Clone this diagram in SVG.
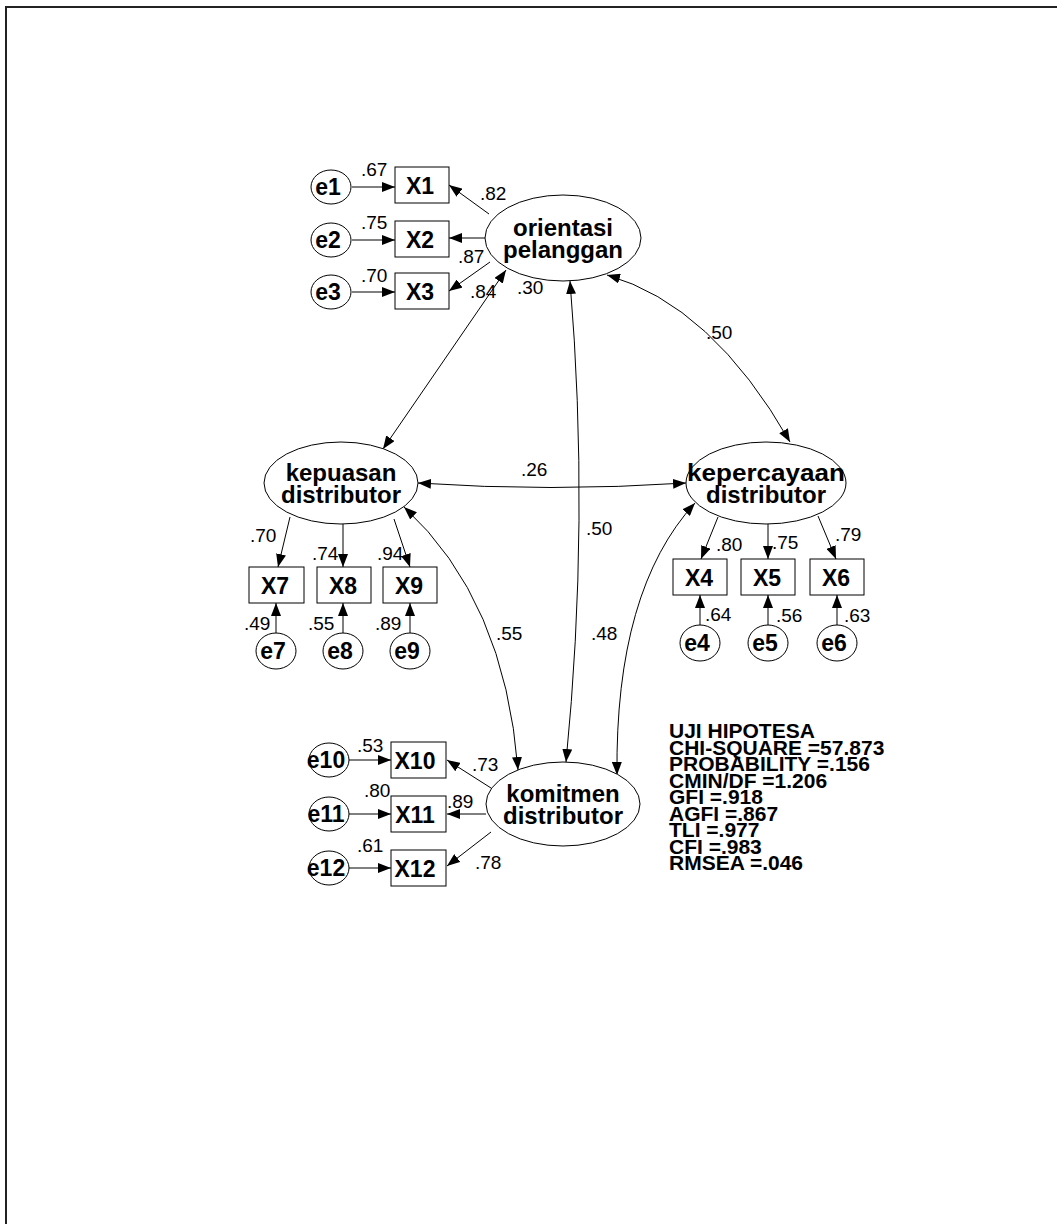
<svg xmlns="http://www.w3.org/2000/svg" width="1057" height="1224" viewBox="0 0 1057 1224">
<defs>
<marker id="ah" viewBox="0 0 13 10" refX="13" refY="5" markerWidth="13" markerHeight="10" markerUnits="userSpaceOnUse" orient="auto-start-reverse">
<path d="M0,0 L13,5 L0,10 z" fill="#000"/>
</marker>
<style>
.lat{fill:#fff;stroke:#000;stroke-width:1}
.box{fill:#fff;stroke:#000;stroke-width:1}
.err{fill:#fff;stroke:#000;stroke-width:1}
.lt{font-family:"Liberation Sans",Arial,sans-serif;font-weight:bold;font-size:24px;text-anchor:middle;fill:#000}
.bt{font-family:"Liberation Sans",Arial,sans-serif;font-weight:bold;font-size:23px;text-anchor:middle;fill:#000}
.et{font-family:"Liberation Sans",Arial,sans-serif;font-weight:bold;font-size:23px;text-anchor:middle;fill:#000}
.num{font-family:"Liberation Sans",Arial,sans-serif;font-size:19px;fill:#000}
.st{font-family:"Liberation Sans",Arial,sans-serif;font-weight:bold;font-size:21px;fill:#000}
.ln{fill:none;stroke:#000;stroke-width:1;marker-end:url(#ah)}
.cv{fill:none;stroke:#000;stroke-width:1;marker-start:url(#ah);marker-end:url(#ah)}
</style>
</defs>
<rect x="0" y="0" width="1057" height="1224" fill="#fff"/>
<rect x="6" y="7" width="1100" height="1300" fill="none" stroke="#222" stroke-width="2"/>

<g id="connectors">
<path class="ln" d="M489,214 L449,185"/>
<path class="ln" d="M485,238 L449,238"/>
<path class="ln" d="M490,262 L449,291"/>
<path class="ln" d="M290,517 L278,567"/>
<path class="ln" d="M343,524 L343,567"/>
<path class="ln" d="M394,519 L410,567"/>
<path class="ln" d="M718,517 L701,559"/>
<path class="ln" d="M768,524 L768,559"/>
<path class="ln" d="M818,516 L836,559"/>
<path class="ln" d="M491,788 L447,760"/>
<path class="ln" d="M486,814 L447,814"/>
<path class="ln" d="M491,832 L447,866"/>
<path class="ln" d="M352,187 L395,187"/>
<path class="ln" d="M352,240 L395,240"/>
<path class="ln" d="M352,292 L395,292"/>
<path class="ln" d="M276,633 L276,603"/>
<path class="ln" d="M343,633 L343,603"/>
<path class="ln" d="M410,633 L410,603"/>
<path class="ln" d="M700,625 L700,595"/>
<path class="ln" d="M768,625 L768,595"/>
<path class="ln" d="M837,625 L837,595"/>
<path class="ln" d="M349,760 L391,760"/>
<path class="ln" d="M349,814 L391,814"/>
<path class="ln" d="M349,868 L391,868"/>
<path class="cv" d="M506,270 L383,449"/>
<path class="cv" d="M607,275 Q712,305 790,442"/>
<path class="cv" d="M570,281 Q590,520 566,762"/>
<path class="cv" d="M418,483 Q550,492 686,483"/>
<path class="cv" d="M404,507 Q505,600 518,770"/>
<path class="cv" d="M695,503 Q615,590 617,775"/>
</g>

<g id="orientasi">
<ellipse class="lat" cx="563" cy="238" rx="78" ry="43"/>
<text class="lt" x="563" y="236">orientasi</text>
<text class="lt" x="563" y="258">pelanggan</text>
</g>
<g id="kepuasan">
<ellipse class="lat" cx="341" cy="483" rx="77" ry="41"/>
<text class="lt" x="341" y="481">kepuasan</text>
<text class="lt" x="341" y="503">distributor</text>
</g>
<g id="kepercayaan">
<ellipse class="lat" cx="766" cy="483" rx="80" ry="41"/>
<text class="lt" x="766" y="481" textLength="158" lengthAdjust="spacingAndGlyphs">kepercayaan</text>
<text class="lt" x="766" y="503">distributor</text>
</g>
<g id="komitmen">
<ellipse class="lat" cx="563" cy="804" rx="77" ry="42"/>
<text class="lt" x="563" y="802">komitmen</text>
<text class="lt" x="563" y="824">distributor</text>
</g>

<g id="X1"><rect class="box" x="395" y="167" width="54" height="36"/><text class="bt" x="420" y="194">X1</text></g>
<g id="X2"><rect class="box" x="395" y="221" width="54" height="36"/><text class="bt" x="420" y="248">X2</text></g>
<g id="X3"><rect class="box" x="395" y="273" width="54" height="36"/><text class="bt" x="420" y="300">X3</text></g>
<g id="X7"><rect class="box" x="249" y="567" width="55" height="36"/><text class="bt" x="275" y="594">X7</text></g>
<g id="X8"><rect class="box" x="317" y="567" width="54" height="36"/><text class="bt" x="343" y="594">X8</text></g>
<g id="X9"><rect class="box" x="383" y="567" width="54" height="36"/><text class="bt" x="409" y="594">X9</text></g>
<g id="X4"><rect class="box" x="673" y="559" width="54" height="36"/><text class="bt" x="699" y="586">X4</text></g>
<g id="X5"><rect class="box" x="741" y="559" width="54" height="36"/><text class="bt" x="767" y="586">X5</text></g>
<g id="X6"><rect class="box" x="810" y="559" width="54" height="36"/><text class="bt" x="836" y="586">X6</text></g>
<g id="X10"><rect class="box" x="391" y="742" width="55" height="36"/><text class="bt" x="415" y="769">X10</text></g>
<g id="X11"><rect class="box" x="391" y="796" width="55" height="36"/><text class="bt" x="415" y="823">X11</text></g>
<g id="X12"><rect class="box" x="391" y="850" width="55" height="36"/><text class="bt" x="415" y="877">X12</text></g>

<g id="e1"><ellipse class="err" cx="331" cy="187" rx="20" ry="17"/><text class="et" x="328" y="195">e1</text></g>
<g id="e2"><ellipse class="err" cx="331" cy="240" rx="20" ry="17"/><text class="et" x="328" y="248">e2</text></g>
<g id="e3"><ellipse class="err" cx="331" cy="292" rx="20" ry="17"/><text class="et" x="328" y="300">e3</text></g>
<g id="e7"><ellipse class="err" cx="276" cy="651" rx="20" ry="18"/><text class="et" x="273" y="659">e7</text></g>
<g id="e8"><ellipse class="err" cx="343" cy="651" rx="20" ry="18"/><text class="et" x="340" y="659">e8</text></g>
<g id="e9"><ellipse class="err" cx="410" cy="651" rx="20" ry="18"/><text class="et" x="407" y="659">e9</text></g>
<g id="e4"><ellipse class="err" cx="700" cy="643" rx="20" ry="18"/><text class="et" x="697" y="651">e4</text></g>
<g id="e5"><ellipse class="err" cx="768" cy="643" rx="20" ry="18"/><text class="et" x="765" y="651">e5</text></g>
<g id="e6"><ellipse class="err" cx="837" cy="643" rx="20" ry="18"/><text class="et" x="834" y="651">e6</text></g>
<g id="e10"><ellipse class="err" cx="329" cy="760" rx="20" ry="17"/><text class="et" x="326" y="768">e10</text></g>
<g id="e11"><ellipse class="err" cx="329" cy="814" rx="20" ry="17"/><text class="et" x="326" y="822">e11</text></g>
<g id="e12"><ellipse class="err" cx="329" cy="868" rx="20" ry="17"/><text class="et" x="326" y="876">e12</text></g>

<g id="labels">
<text class="num" x="361" y="176">.67</text>
<text class="num" x="361" y="229">.75</text>
<text class="num" x="361" y="282">.70</text>
<text class="num" x="480" y="200">.82</text>
<text class="num" x="458" y="263">.87</text>
<text class="num" x="470" y="298">.84</text>
<text class="num" x="517" y="294">.30</text>
<text class="num" x="706" y="339">.50</text>
<text class="num" x="521" y="476">.26</text>
<text class="num" x="586" y="535">.50</text>
<text class="num" x="496" y="640">.55</text>
<text class="num" x="591" y="640">.48</text>
<text class="num" x="250" y="542">.70</text>
<text class="num" x="312" y="560">.74</text>
<text class="num" x="377" y="560">.94</text>
<text class="num" x="244" y="630">.49</text>
<text class="num" x="308" y="630">.55</text>
<text class="num" x="375" y="630">.89</text>
<text class="num" x="716" y="551">.80</text>
<text class="num" x="772" y="549">.75</text>
<text class="num" x="835" y="541">.79</text>
<text class="num" x="705" y="621">.64</text>
<text class="num" x="776" y="622">.56</text>
<text class="num" x="844" y="622">.63</text>
<text class="num" x="357" y="752">.53</text>
<text class="num" x="364" y="797">.80</text>
<text class="num" x="357" y="852">.61</text>
<text class="num" x="472" y="771">.73</text>
<text class="num" x="447" y="808">.89</text>
<text class="num" x="475" y="869">.78</text>
</g>

<g id="stats">
<text class="st" x="669" y="738">UJI HIPOTESA</text>
<text class="st" x="669" y="754.5">CHI-SQUARE =57.873</text>
<text class="st" x="669" y="771">PROBABILITY =.156</text>
<text class="st" x="669" y="787.5">CMIN/DF =1.206</text>
<text class="st" x="669" y="804">GFI =.918</text>
<text class="st" x="669" y="820.5">AGFI =.867</text>
<text class="st" x="669" y="837">TLI =.977</text>
<text class="st" x="669" y="853.5">CFI =.983</text>
<text class="st" x="669" y="870">RMSEA =.046</text>
</g>
</svg>
